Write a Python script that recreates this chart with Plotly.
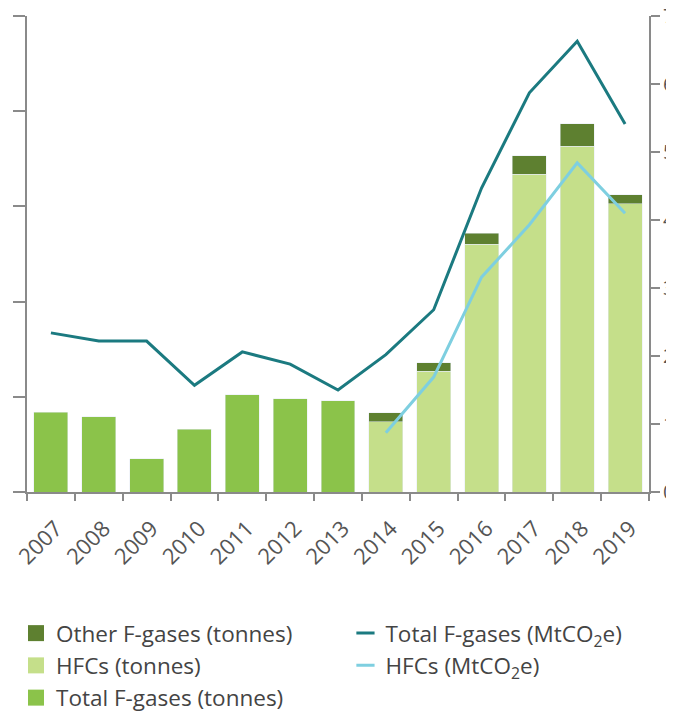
import plotly.graph_objects as go

years = ["2007", "2008", "2009", "2010", "2011", "2012", "2013",
         "2014", "2015", "2016", "2017", "2018", "2019"]

# Bars (left axis, tonnes; axis labels not visible in reference)
total_tonnes_years = ["2007", "2008", "2009", "2010", "2011", "2012", "2013"]
total_tonnes = [0.84, 0.79, 0.35, 0.66, 1.02, 0.98, 0.96]

split_years = ["2014", "2015", "2016", "2017", "2018", "2019"]
hfc_tonnes = [0.74, 1.27, 2.60, 3.34, 3.63, 3.03]
other_tonnes = [0.09, 0.09, 0.12, 0.19, 0.24, 0.09]

# Lines (right axis, MtCO2e)
total_mt = [2.34, 2.22, 2.22, 1.57, 2.06, 1.88, 1.50, 2.02, 2.68, 4.47, 5.87, 6.63, 5.41]
hfc_mt_years = ["2014", "2015", "2016", "2017", "2018", "2019"]
hfc_mt = [0.87, 1.69, 3.16, 3.93, 4.84, 4.10]

C_TOTAL_BAR = "#8BC34A"
C_HFC_BAR = "#C5DF8A"
C_OTHER_BAR = "#5E8030"
C_TOTAL_LINE = "#1B7A80"
C_HFC_LINE = "#7ECFE0"

fig = go.Figure()

fig.add_trace(go.Bar(x=total_tonnes_years, y=total_tonnes, marker_color=C_TOTAL_BAR,
                     name="Total F-gases (tonnes)", showlegend=False))
fig.add_trace(go.Bar(x=split_years, y=hfc_tonnes, marker_color=C_HFC_BAR,
                     name="HFCs (tonnes)", showlegend=False))
fig.add_trace(go.Bar(x=split_years, y=other_tonnes, marker_color=C_OTHER_BAR,
                     name="Other F-gases (tonnes)", showlegend=False))

fig.add_trace(go.Scatter(x=years, y=total_mt, mode="lines", yaxis="y2",
                         line=dict(color=C_TOTAL_LINE, width=3),
                         name="Total F-gases (MtCO<sub>2</sub>e)", showlegend=False))
fig.add_trace(go.Scatter(x=hfc_mt_years, y=hfc_mt, mode="lines", yaxis="y2",
                         line=dict(color=C_HFC_LINE, width=3),
                         name="HFCs (MtCO<sub>2</sub>e)", showlegend=False))

# Legend entries: left column (bars) in legend, right column (lines) in legend2
legend_items = [
    ("Other F-gases (tonnes)", "square", C_OTHER_BAR, "legend"),
    ("HFCs (tonnes)", "square", C_HFC_BAR, "legend"),
    ("Total F-gases (tonnes)", "square", C_TOTAL_BAR, "legend"),
    ("Total F-gases (MtCO<sub>2</sub>e)", "line-ew", C_TOTAL_LINE, "legend2"),
    ("HFCs (MtCO<sub>2</sub>e)", "line-ew", C_HFC_LINE, "legend2"),
]
for name, sym, col, lg in legend_items:
    if sym == "square":
        mk = dict(symbol="square", size=20, color=col, line=dict(width=0))
    else:
        mk = dict(symbol="line-ew", size=13, color=col, line=dict(width=3, color=col))
    fig.add_trace(go.Scatter(x=[None], y=[None], mode="markers", marker=mk,
                             name=name, showlegend=True, hoverinfo="skip", legend=lg))

axis_col = "#8a8a8a"
leg_font = dict(family="Open Sans", size=22.5, color="#444444")
fig.update_layout(
    width=666, height=710,
    margin=dict(l=19, r=25, t=8, b=226, autoexpand=False),
    paper_bgcolor="white", plot_bgcolor="white",
    barmode="stack", bargap=0.29,
    font=dict(family="Open Sans", size=20, color="#555555"),
    xaxis=dict(type="category", categoryorder="array", categoryarray=years,
               range=[-0.5, 12.5], showgrid=False, showline=True, automargin=False,
               linecolor=axis_col, linewidth=2, ticks="outside", tickson="boundaries",
               ticklen=7, tickcolor=axis_col, tickwidth=1.5, tickangle=-45,
               ticklabelstandoff=13, ticklabelshift=5,
               tickfont=dict(size=22, color="#555555")),
    yaxis=dict(range=[0, 5], dtick=1, showgrid=False, zeroline=False, showline=True,
               automargin=False,
               linecolor=axis_col, linewidth=2, ticks="outside", ticklen=12,
               tickcolor=axis_col, tickwidth=1.5, showticklabels=False),
    yaxis2=dict(range=[0, 7], dtick=1, overlaying="y", side="right", showgrid=False,
                automargin=False, ticklabelstandoff=-1, ticklabeloverflow="allow",
                zeroline=False, showline=True, linecolor=axis_col, linewidth=2,
                ticks="outside", ticklen=9, tickcolor=axis_col, tickwidth=1.5,
                tickfont=dict(size=20, color="#555555")),
    legend=dict(orientation="v", x=-0.0177, xanchor="left", y=-0.2521, yanchor="top",
                traceorder="normal", itemsizing="trace",
                font=leg_font, bgcolor="rgba(0,0,0,0)"),
    legend2=dict(orientation="v", x=0.512, xanchor="left", y=-0.2521, yanchor="top",
                 traceorder="normal", itemsizing="trace",
                 font=leg_font, bgcolor="rgba(0,0,0,0)"),
)

fig.write_html("out.html")
